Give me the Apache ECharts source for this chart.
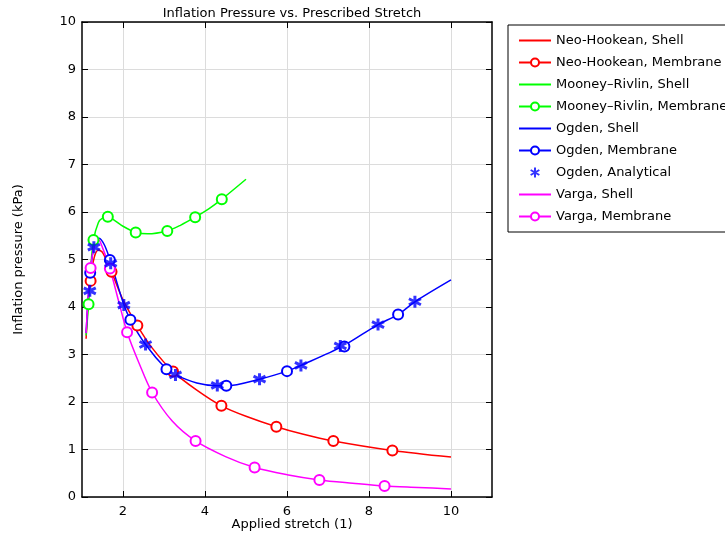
<!DOCTYPE html>
<html>
<head>
<meta charset="utf-8">
<script src="https://cdn.jsdelivr.net/npm/echarts@6/dist/echarts.min.js"></script>
<style>
  html, body { margin: 0; padding: 0; background: #fff; }
  #chart { width: 725px; height: 534px; }
</style>
</head>
<body>
<div id="chart"></div>
<script>
// 数据：从图上读出的 [拉伸比, 压力 kPa]
const neoShell = [[1.1,3.33],[1.15,4.1],[1.2,4.55],[1.3,5.05],[1.4,5.2],[1.5,5.15],[1.72,4.74],[2.0,4.15],[2.35,3.61],[2.7,3.15],[3.22,2.64],[3.8,2.25],[4.4,1.92],[5.0,1.7],[5.74,1.48],[6.4,1.32],[7.13,1.18],[8.57,0.98],[10,0.84]]
const neoMembrane = [[1.21,4.55],[1.72,4.74],[2.35,3.61],[3.22,2.64],[4.4,1.92],[5.74,1.48],[7.13,1.18],[8.57,0.98]]
const mrShell = [[1.1,3.4],[1.16,4.06],[1.22,4.9],[1.28,5.41],[1.4,5.78],[1.5,5.87],[1.63,5.9],[1.8,5.82],[2.0,5.7],[2.31,5.57],[2.6,5.54],[3.07,5.6],[3.4,5.72],[3.76,5.89],[4.1,6.07],[4.41,6.27],[5.0,6.69]]
const mrMembrane = [[1.16,4.06],[1.28,5.41],[1.63,5.9],[2.31,5.57],[3.08,5.6],[3.76,5.89],[4.41,6.27]]
const ogdenShell = [[1.1,3.45],[1.15,4.2],[1.2,4.72],[1.3,5.3],[1.42,5.45],[1.55,5.3],[1.7,4.95],[2.0,4.1],[2.18,3.73],[2.55,3.21],[3.06,2.69],[3.28,2.57],[3.8,2.4],[4.3,2.34],[4.52,2.34],[5.33,2.48],[6.0,2.65],[6.34,2.77],[7.35,3.17],[8.22,3.63],[8.71,3.84],[9.12,4.11],[10,4.57]]
const ogdenMembrane = [[1.2,4.72],[1.68,4.99],[2.18,3.73],[3.06,2.69],[4.52,2.34],[6.0,2.65],[7.4,3.17],[8.71,3.84]]
const ogdenAnalytical = [[1.19,4.34],[1.29,5.26],[1.7,4.92],[2.02,4.04],[2.55,3.21],[3.28,2.57],[4.3,2.35],[5.33,2.48],[6.34,2.77],[7.3,3.18],[8.22,3.63],[9.12,4.11]]
const vargaShell = [[1.1,3.45],[1.15,4.2],[1.21,4.82],[1.3,5.3],[1.39,5.44],[1.5,5.25],[1.68,4.81],[1.9,4.1],[2.1,3.47],[2.4,2.8],[2.71,2.2],[3.2,1.6],[3.77,1.18],[4.5,0.85],[5.21,0.62],[6.0,0.47],[6.79,0.36],[7.6,0.29],[8.38,0.23],[9.2,0.2],[10,0.17]]
const vargaMembrane = [[1.21,4.82],[1.68,4.81],[2.1,3.47],[2.71,2.2],[3.77,1.18],[5.21,0.62],[6.79,0.36],[8.38,0.23]]

const xTicks = [2, 4, 6, 8, 10]
const font = 'DejaVu Sans'

const star = 'path://M0,-1L0,1M-0.87,-0.5L0.87,0.5M-0.87,0.5L0.87,-0.5'

const chart = echarts.init(document.getElementById('chart'))

function shell(name, data, color) {
    return {
        name, type: 'line', data, smooth: 0.3, showSymbol: false,
        lineStyle: { color, width: 1.5 }, itemStyle: { color },
        z: 2
    }
}
function membrane(name, data, color) {
    return {
        name, type: 'line', data, symbol: 'emptyCircle', symbolSize: 10,
        showAllSymbol: true,
        lineStyle: { color, width: 1.5, opacity: 0 },
        itemStyle: { color, borderColor: color, borderWidth: 1.5 },
        z: 3
    }
}

const xBase = {
    type: 'value', min: 1, max: 11,
    axisLine: { show: true, onZero: false, lineStyle: { color: '#000', width: 1.5 } },
    axisTick: { show: true, inside: true, length: 6, customValues: xTicks, lineStyle: { color: '#000' } },
    axisLabel: { customValues: xTicks, color: '#000', fontFamily: font, fontSize: 13, margin: 8 },
    splitLine: { show: true, lineStyle: { color: '#dcdcdc', width: 1 } }
}
const yBase = {
    type: 'value', min: 0, max: 10, interval: 1,
    axisLine: { show: true, onZero: false, lineStyle: { color: '#000', width: 1.5 } },
    axisTick: { show: true, inside: true, length: 6, lineStyle: { color: '#000' } },
    axisLabel: { color: '#000', fontFamily: font, fontSize: 13, margin: 6 },
    splitLine: { show: true, lineStyle: { color: '#dcdcdc', width: 1 } }
}

const legendNames = ['Neo-Hookean, Shell', 'Neo-Hookean, Membrane', 'Mooney\u2013Rivlin, Shell', 'Mooney\u2013Rivlin, Membrane',
    'Ogden, Shell', 'Ogden, Membrane', 'Ogden, Analytical', 'Varga, Shell', 'Varga, Membrane']

const textStyle = { fontFamily: font, fontSize: 13, fontWeight: 'normal', color: '#000' }

chart.setOption({
    animation: false,
    backgroundColor: '#fff',
    title: [
        { text: 'Inflation Pressure vs. Prescribed Stretch', left: 287, top: 2, textAlign: 'center', textStyle },
        // x 轴名称
        { text: 'Applied stretch (1)', left: 287, top: 513, textAlign: 'center', textStyle }
    ],
    grid: { left: 82, top: 22, width: 410, height: 475, containLabel: false, outerBoundsMode: 'none' },
    legend: {
        orient: 'vertical', left: 508, top: 25,
        padding: [9, 10, 9, 10], itemGap: 9, itemWidth: 32, itemHeight: 10,
        borderColor: '#000', borderWidth: 1, borderRadius: 0,
        textStyle: { fontFamily: font, fontSize: 13, color: '#000' },
        data: legendNames.map(n => n.includes('Membrane')
            ? { name: n, lineStyle: { opacity: 1 } }
            : n.includes('Shell')
                ? { name: n, itemStyle: { opacity: 0 } }
                : { name: n })
    },
    xAxis: [
        Object.assign({}, xBase),
        Object.assign({}, xBase, { position: 'top', axisLabel: { show: false, customValues: xTicks }, splitLine: { show: false } })
    ],
    yAxis: [
        Object.assign({}, yBase, {
            name: 'Inflation pressure (kPa)', nameLocation: 'middle', nameGap: 57,
            nameTextStyle: { fontFamily: font, fontSize: 13, color: '#000' }
        }),
        Object.assign({}, yBase, { position: 'right', axisLabel: { show: false }, splitLine: { show: false } })
    ],
    series: [
        shell('Neo-Hookean, Shell', neoShell, '#ff0000'),
        membrane('Neo-Hookean, Membrane', neoMembrane, '#ff0000'),
        shell('Mooney\u2013Rivlin, Shell', mrShell, '#00ff00'),
        membrane('Mooney\u2013Rivlin, Membrane', mrMembrane, '#00ff00'),
        shell('Ogden, Shell', ogdenShell, '#0000ff'),
        membrane('Ogden, Membrane', ogdenMembrane, '#0000ff'),
        {
            name: 'Ogden, Analytical', type: 'scatter', data: ogdenAnalytical,
            symbol: star, symbolSize: 12,
            itemStyle: { color: '#0000ff', borderColor: '#0000ff', borderWidth: 3 },
            z: 4
        },
        shell('Varga, Shell', vargaShell, '#ff00ff'),
        membrane('Varga, Membrane', vargaMembrane, '#ff00ff')
    ]
})
</script>
</body>
</html>
